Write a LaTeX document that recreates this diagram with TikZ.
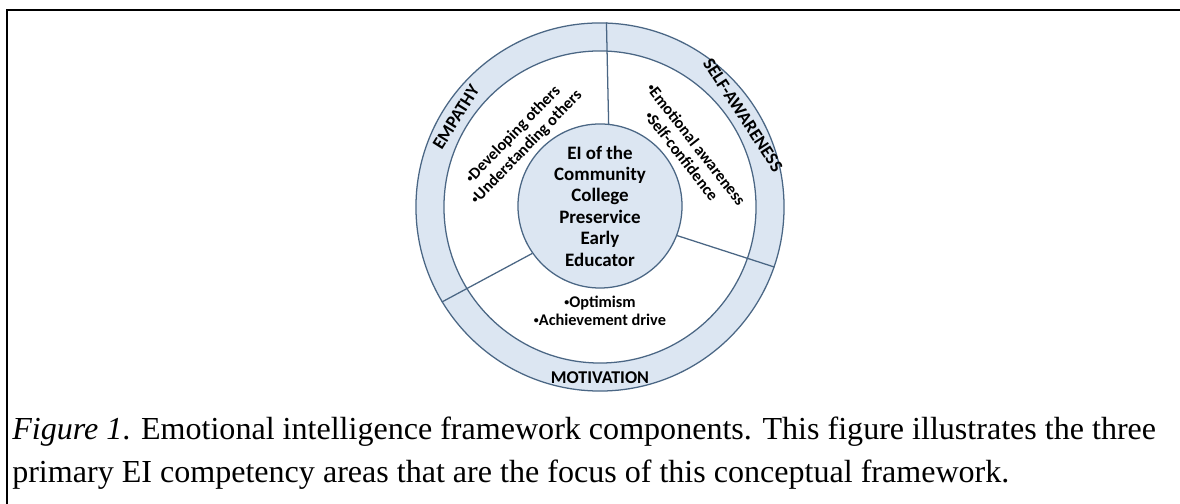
\documentclass[tikz,border=0pt]{standalone}
\usepackage{fontspec}
\setmainfont{Liberation Serif}
\newfontfamily\calibri{Carlito}
\usetikzlibrary{positioning}

\definecolor{ringblue}{RGB}{220,230,242}
\definecolor{ringline}{RGB}{74,102,132}

% small raised bullet for the competency lists
\newcommand{\itemdot}{\raisebox{0.28ex}{\fontsize{7}{7}\selectfont\textbullet}}

\begin{document}
\begin{tikzpicture}[
x=0.025cm, y=0.025cm,
% Define circle and text styles
disc/.style = {circle, draw=ringline, line width=0.9pt, inner sep=0pt},
divider/.style = {draw=ringline, line width=0.9pt},
area/.style = {font=\calibri\bfseries\fontsize{12.8}{14}\selectfont},
items/.style = {align=center, font=\calibri\bfseries\fontsize{11.6}{13.2}\selectfont},
core/.style = {align=center, font=\calibri\bfseries\fontsize{13.5}{15.2}\selectfont}
]
\useasboundingbox (0,0) rectangle (1180,504);

% Frame
\draw [line width=2.1pt] (1180,494) -- (7,494) -- (7,0);

% Circles
\node (outer) [disc, fill=ringblue, minimum size=9.2cm] at (600,297) {};
\node (inner) [disc, fill=white, minimum size=7.8cm] at (outer.center) {};
\node (core) [disc, core, fill=ringblue, minimum size=4.1cm] at (600,298) {EI of the\\Community\\College\\Preservice\\Early\\Educator};

% Dividers
\draw [divider] (core.84) -- (outer.88);
\draw [divider] (core.-21) -- (outer.-19);
\draw [divider] (core.215) -- (outer.211);

% Competency areas
\node (empathy) [area, rotate=58] at (456,387) {EMPATHY};
\node (selfAware) [area, rotate=-57] at (743,389) {SELF-AWARENESS};
\node (motivation) [area] at (600,126) {MOTIVATION};

% Competencies within each area
\node (empathyList) [items, rotate=46] at (520,363) {\itemdot Developing others\\\itemdot Understanding others};
\node (selfAwareList) [items, rotate=-52] at (689,354) {\itemdot Emotional awareness\\\itemdot Self-confidence};
\node (motivationList) [items] at (600,193) {\itemdot Optimism\\\itemdot Achievement drive};

% Caption
\node (caption) [anchor=base west, align=left, inner xsep=0pt, font=\fontsize{22.8}{30.6}\selectfont] at (12,21) {\textit{Figure 1}. Emotional intelligence framework components. This figure illustrates the three\\primary EI competency areas that are the focus of this conceptual framework.};
\end{tikzpicture}
\end{document}
